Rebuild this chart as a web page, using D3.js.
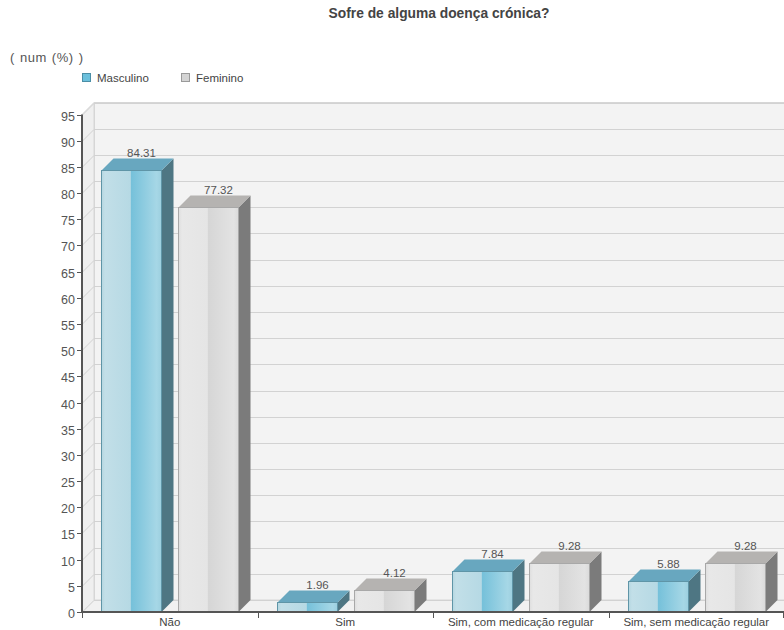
<!DOCTYPE html>
<html lang="pt">
<meta charset="utf-8">
<title>Sofre de alguma doença crónica?</title>
<style>
  body { margin: 0; background: #fff; }
  svg { display: block; }
  svg text { font-family: "Liberation Sans", Arial, sans-serif; }
</style>
<body>
<div id="chart"></div>
<script src="https://cdn.jsdelivr.net/npm/d3@7"></script>
<script>
// Chart data
var categories = ["Não", "Sim", "Sim, com medicação regular", "Sim, sem medicação regular"];
var seriesNames = ["Masculino", "Feminino"];
var masculino = [84.31, 1.96, 7.84, 5.88];
var feminino = [77.32, 4.12, 9.28, 9.28];
var yTicks = d3.range(0, 100, 5);

var W = 784, H = 630;
var depth = 12;
var plotLeft = 82, plotRight = 784, plotBottom = 612, plotTop = 114.5;

var svg = d3.select("#chart").append("svg").attr("width", W).attr("height", H);
var defs = svg.append("defs");

// front gradients for the two series
function addGrad(id, stops) {
  var g = defs.append("linearGradient").attr("id", id)
    .attr("x1", "0").attr("x2", "1").attr("y1", "0").attr("y2", "0");
  stops.forEach(function (s) {
    g.append("stop").attr("offset", s[0]).attr("stop-color", s[1]);
  });
}
addGrad("gMasc", [[0, "#b4d6e0"], [0.06, "#c2dfe8"], [0.48, "#b6d9e4"], [0.5, "#76c1da"], [0.92, "#a6d7e6"], [1, "#9ccfdf"]]);
addGrad("gFem", [[0, "#dedede"], [0.06, "#e8e8e8"], [0.48, "#e5e5e5"], [0.5, "#d6d6d6"], [0.92, "#e3e3e3"], [1, "#dadada"]]);

var colors = {
  Masculino: { front: "url(#gMasc)", top: "#68a7bf", side: "#4e7683", edge: "#5f95a7", legend: "#6cc0dc" },
  Feminino: { front: "url(#gFem)", top: "#b5b3b1", side: "#7b7b7b", edge: "#a8a8a8", legend: "#d4d4d4" }
};

var x0 = d3.scaleBand().domain(categories).range([plotLeft, plotRight]).padding(0);
var x1 = d3.scaleBand().domain(seriesNames).range([0, x0.bandwidth()])
  .paddingInner(0.22).paddingOuter(0.25);
var y = d3.scaleLinear().domain([0, 95]).range([plotBottom, plotTop]);

// title
svg.append("text").attr("x", 439).attr("y", 18).attr("text-anchor", "middle")
  .style("font-size", "13.8px").style("font-weight", "bold").attr("fill", "#444")
  .text("Sofre de alguma doença crónica?");

svg.append("text").attr("x", 10).attr("y", 62).style("font-size", "13px")
  .style("letter-spacing", "0.5px").style("word-spacing", "1px").attr("fill", "#555")
  .text("( num (%) )");

// legend
var legX = [82, 181];
seriesNames.forEach(function (s, i) {
  svg.append("rect").attr("x", legX[i] + 0.5).attr("y", 73.5).attr("width", 8).attr("height", 8)
    .attr("fill", colors[s].legend).attr("stroke", i === 0 ? "#4b8ea6" : "#9a9a9a");
  svg.append("text").attr("x", legX[i] + 15).attr("y", 82).style("font-size", "11.5px").attr("fill", "#444")
    .text(s);
});

// back wall, side wall and floor
var plot = svg.append("g");
plot.append("rect").attr("x", plotLeft + depth + 0.5).attr("y", y(95) - depth)
  .attr("width", plotRight - plotLeft).attr("height", y(0) - y(95))
  .attr("fill", "#f3f3f3").attr("stroke", "#d6d6d6");
plot.append("path")
  .attr("d", "M" + plotLeft + "," + y(95) + "L" + (plotLeft + depth) + "," + (y(95) - depth) +
    "L" + (plotLeft + depth) + "," + (y(0) - depth) + "L" + plotLeft + "," + y(0) + "Z")
  .attr("fill", "#efefef").attr("stroke", "#d6d6d6");
plot.append("path")
  .attr("d", "M" + plotLeft + "," + y(0) + "L" + (plotLeft + depth) + "," + (y(0) - depth) +
    "L" + (plotRight + depth) + "," + (y(0) - depth) + "L" + plotRight + "," + y(0) + "Z")
  .attr("fill", "#f1f1f1");

// grid lines
yTicks.forEach(function (t) {
  var yy = Math.round(y(t)) + 0.5;
  plot.append("line").attr("x1", plotLeft + depth).attr("x2", plotRight + depth)
    .attr("y1", yy - depth).attr("y2", yy - depth).attr("stroke", "#d2d2d2");
  plot.append("line").attr("x1", plotLeft).attr("x2", plotLeft + depth)
    .attr("y1", yy).attr("y2", yy - depth).attr("stroke", "#d2d2d2");
});

// bars
var rows = categories.map(function (c, i) {
  return [{ cat: c, s: "Masculino", v: masculino[i] }, { cat: c, s: "Feminino", v: feminino[i] }];
});
var bars = svg.append("g");
rows.forEach(function (row) {
  row.forEach(function (d) {
    var bx = Math.round(x0(d.cat) + x1(d.s)) + 0.5;
    var bw = Math.round(x1.bandwidth());
    var yt = Math.round(y(d.v)) + 0.5;
    var yb = y(0);
    var c = colors[d.s];
    var g = bars.append("g");
    g.append("path")
      .attr("d", "M" + (bx + bw) + "," + yt + "L" + (bx + bw + depth) + "," + (yt - depth) +
        "L" + (bx + bw + depth) + "," + (yb - depth) + "L" + (bx + bw) + "," + yb + "Z")
      .attr("fill", c.side);
    g.append("path")
      .attr("d", "M" + bx + "," + yt + "L" + (bx + depth) + "," + (yt - depth) +
        "L" + (bx + bw + depth) + "," + (yt - depth) + "L" + (bx + bw) + "," + yt + "Z")
      .attr("fill", c.top);
    g.append("rect").attr("x", bx).attr("y", yt).attr("width", bw).attr("height", yb - yt)
      .attr("fill", c.front).attr("stroke", c.edge).attr("stroke-width", 1);
    g.append("text").attr("x", bx + bw / 2 + depth - 2).attr("y", yt - depth - 2)
      .attr("text-anchor", "middle").style("font-size", "11.5px").attr("fill", "#555")
      .text(d.v.toFixed(2));
  });
});

// y axis
var axisG = svg.append("g");
axisG.append("line").attr("x1", plotLeft).attr("x2", plotLeft).attr("y1", y(95)).attr("y2", y(0))
  .attr("stroke", "#555").attr("stroke-width", 2);
yTicks.forEach(function (t) {
  var yy = Math.round(y(t)) + 0.5;
  axisG.append("line").attr("x1", plotLeft - 5).attr("x2", plotLeft).attr("y1", yy).attr("y2", yy)
    .attr("stroke", "#555");
  axisG.append("text").attr("x", plotLeft - 7).attr("y", yy + 5).attr("text-anchor", "end")
    .style("font-size", "12.5px").attr("fill", "#555").text(t);
});

// x axis
axisG.append("line").attr("x1", plotLeft).attr("x2", plotRight).attr("y1", y(0)).attr("y2", y(0))
  .attr("stroke", "#555").attr("stroke-width", 2);
categories.forEach(function (c) {
  var bx = Math.round(x0(c)) + 0.5;
  axisG.append("line").attr("x1", bx).attr("x2", bx).attr("y1", y(0)).attr("y2", y(0) + 6)
    .attr("stroke", "#555");
  axisG.append("text").attr("x", x0(c) + x0.bandwidth() / 2).attr("y", 626)
    .attr("text-anchor", "middle").style("font-size", "11.5px").attr("fill", "#444").text(c);
});
var endX = Math.round(x0(categories[categories.length - 1]) + x0.bandwidth()) - 0.5;
axisG.append("line").attr("x1", endX).attr("x2", endX).attr("y1", y(0)).attr("y2", y(0) + 6)
  .attr("stroke", "#555");
</script>
</body>
</html>
